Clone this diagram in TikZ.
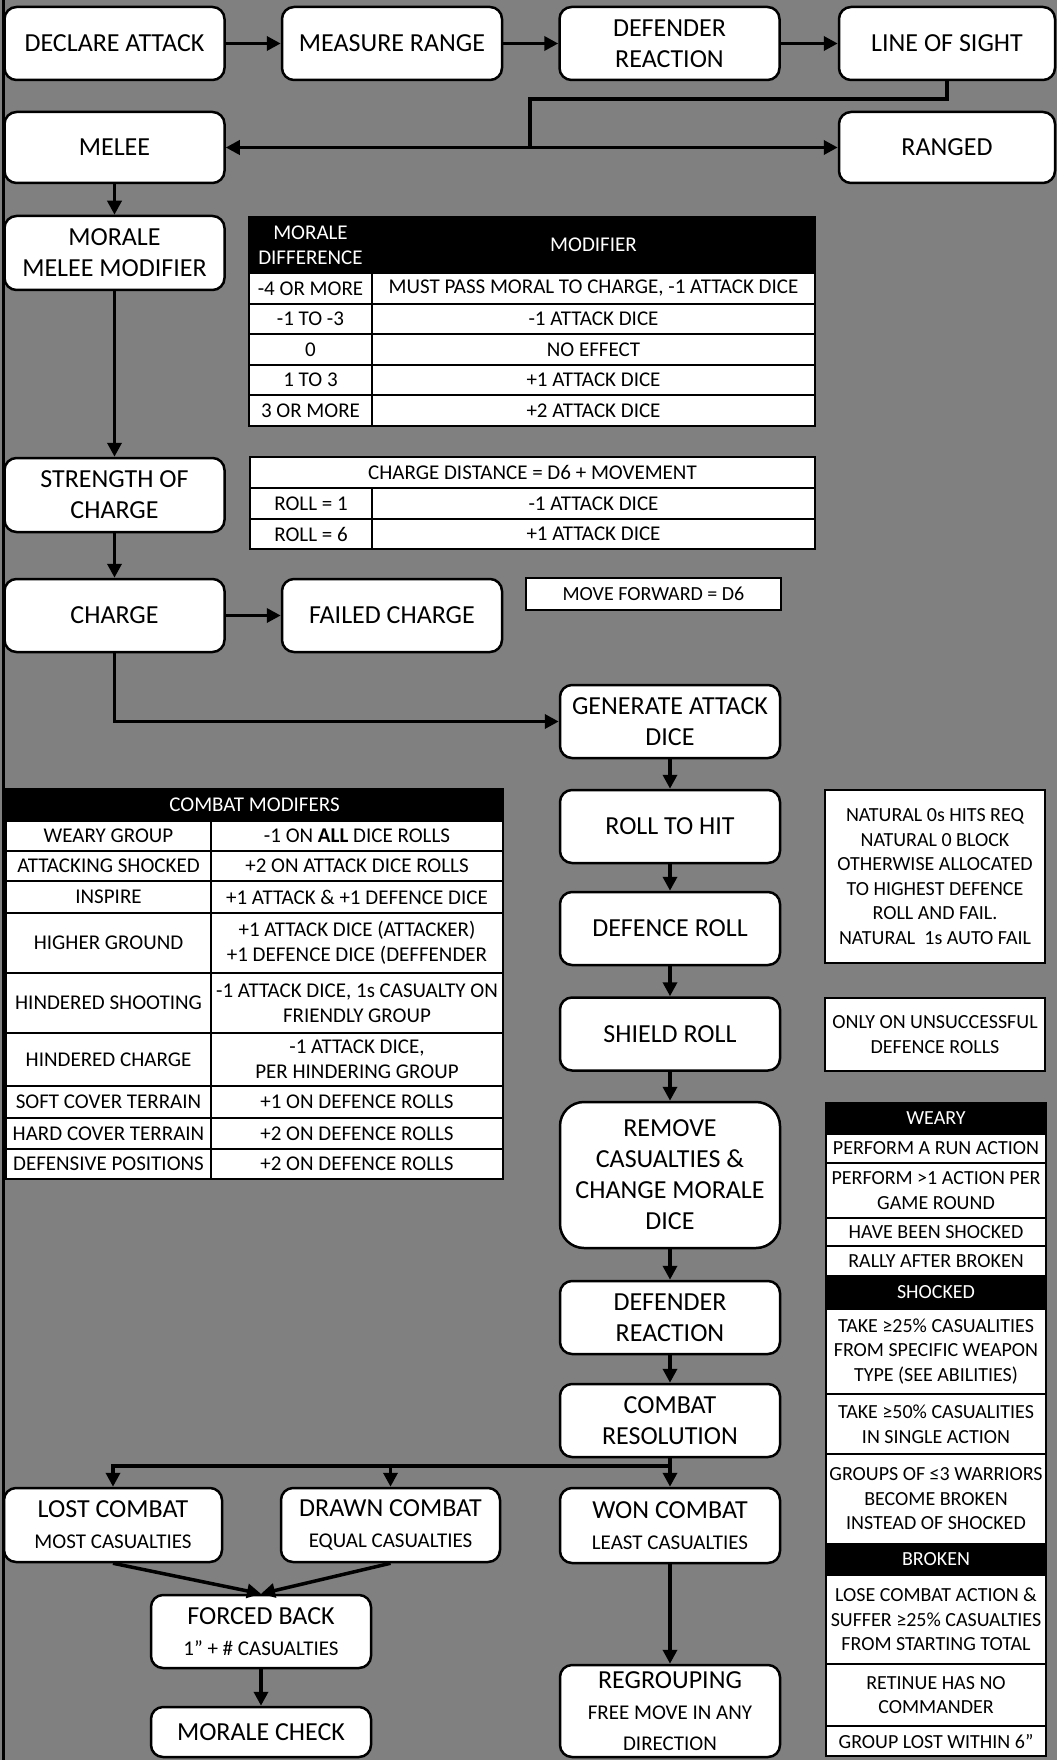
\documentclass[tikz,border=0pt]{standalone}
\usepackage{fontspec}
\setmainfont{Carlito}
\usetikzlibrary{arrows.meta}
\definecolor{bggray}{HTML}{808080}
\newcommand{\flowfont}{\fontsize{26}{31}\selectfont}
\newcommand{\minorfont}{\fontsize{21}{26}\selectfont}
\newcommand{\cellfont}{\fontsize{21}{25}\selectfont}
\newcommand{\memofont}{\fontsize{20}{24.5}\selectfont}

\begin{document}
\begin{tikzpicture}[x=1pt,y=-1pt,>={Triangle[length=14pt,width=14pt]},
  stepbox/.style={draw,line width=2.5pt,fill=white,rounded corners=12pt,minimum width=220pt,minimum height=73pt,inner sep=2pt,align=center,font=\flowfont},
  memo/.style={draw,line width=2.5pt,fill=white,inner sep=0pt,align=center,font=\memofont},
  tcell/.style={draw,line width=2pt,fill=white,anchor=north west,inner sep=0pt,align=center,font=\cellfont},
  thead/.style={tcell,fill=black,text=white},
  scell/.style={tcell,font=\memofont},
  shead/.style={thead,font=\memofont},
  wh/.style 2 args={minimum width=#1,minimum height=#2},
  link/.style={line width=3.5pt,line join=miter},
  flow/.style={link,->}]
\useasboundingbox (0,0) rectangle (1057,1760);
\fill[bggray] (0,0) rectangle (1057,1760);
\draw[line width=3pt] (3.5,0) -- (3.5,1760);

% main flow
\node[stepbox] (decl) at (114.5,43.5) {DECLARE ATTACK};
\node[stepbox] (meas) at (392,43.5) {MEASURE RANGE};
\node[stepbox] (react) at (669.5,43.5) {DEFENDER\\REACTION};
\node[stepbox,minimum width=216pt] (sight) at (947,43.5) {LINE OF SIGHT};
\node[stepbox,minimum height=71pt] (melee) at (114.5,147.5) {MELEE};
\node[stepbox,minimum width=216pt,minimum height=71pt] (ranged) at (947,147.5) {RANGED};
\node[stepbox,minimum height=74pt] (moralemod) at (114.5,253) {MORALE\\MELEE MODIFIER};
\node[stepbox,minimum height=74pt] (strength) at (114.5,495) {STRENGTH OF\\CHARGE};
\node[stepbox] (charge) at (114.5,615.5) {CHARGE};
\node[stepbox] (failed) at (392,615.5) {FAILED CHARGE};
\node[memo,minimum width=255pt,minimum height=32pt] (moved6) at (653.5,594) {MOVE FORWARD = D6};
\node[stepbox] (generate) at (670,721.5) {GENERATE ATTACK\\DICE};
\node[stepbox] (tohit) at (670,826.5) {ROLL TO HIT};
\node[stepbox] (defroll) at (670,928.5) {DEFENCE ROLL};
\node[stepbox] (shield) at (670,1034) {SHIELD ROLL};
\node[stepbox,minimum height=146pt,rounded corners=24pt] (remove) at (670,1175) {REMOVE\\CASUALTIES \&\\CHANGE MORALE\\DICE};
\node[stepbox] (react2) at (670,1317.5) {DEFENDER\\REACTION};
\node[stepbox] (resolve) at (670,1420.5) {COMBAT\\RESOLUTION};
\node[stepbox,minimum height=75pt] (won) at (670,1525.5) {WON COMBAT\\\minorfont LEAST CASUALTIES};
\node[stepbox,minimum height=92pt] (regroup) at (670,1711) {REGROUPING\\\minorfont FREE MOVE IN ANY\\\minorfont DIRECTION};
\node[stepbox,minimum width=218pt,minimum height=74pt] (lost) at (113,1525) {LOST COMBAT\\\minorfont MOST CASUALTIES};
\node[stepbox,minimum width=219pt,minimum height=74pt] (drawn) at (390.5,1525) {DRAWN COMBAT\\\minorfont EQUAL CASUALTIES};
\node[stepbox] (forced) at (261,1631.5) {FORCED BACK\\\minorfont 1” + \# CASUALTIES};
\node[stepbox,minimum height=50pt] (mcheck) at (261,1732) {MORALE CHECK};

% notes
\node[memo,minimum width=220pt,minimum height=173pt] (natural) at (935,876.5) {NATURAL 0s HITS REQ\\NATURAL 0 BLOCK\\OTHERWISE ALLOCATED\\TO HIGHEST DEFENCE\\ROLL AND FAIL.\\NATURAL\ \ 1s AUTO FAIL};
\node[memo,minimum width=220pt,minimum height=73pt] (shieldnote) at (935,1034.5) {ONLY ON UNSUCCESSFUL\\DEFENCE ROLLS};

% morale difference table
\node[thead,wh={123pt}{56pt}] (mdH1) at (248,216) {MORALE\\DIFFERENCE};
\node[thead,wh={443pt}{56pt}] (mdH2) at (371,216) {MODIFIER};
\node[tcell,wh={123pt}{30.6pt}] (md1a) at (248,272) {-4 OR MORE};
\node[tcell,wh={443pt}{30.6pt}] (md1b) at (371,272) {MUST PASS MORAL TO CHARGE, -1 ATTACK DICE};
\node[tcell,wh={123pt}{30.6pt}] (md2a) at (248,302.6) {-1 TO -3};
\node[tcell,wh={443pt}{30.6pt}] (md2b) at (371,302.6) {-1 ATTACK DICE};
\node[tcell,wh={123pt}{30.6pt}] (md3a) at (248,333.2) {0};
\node[tcell,wh={443pt}{30.6pt}] (md3b) at (371,333.2) {NO EFFECT};
\node[tcell,wh={123pt}{30.6pt}] (md4a) at (248,363.8) {1 TO 3};
\node[tcell,wh={443pt}{30.6pt}] (md4b) at (371,363.8) {+1 ATTACK DICE};
\node[tcell,wh={123pt}{30.6pt}] (md5a) at (248,394.4) {3 OR MORE};
\node[tcell,wh={443pt}{30.6pt}] (md5b) at (371,394.4) {+2 ATTACK DICE};

% charge distance table
\node[tcell,wh={565pt}{31pt}] (cd0) at (249,456) {CHARGE DISTANCE = D6 + MOVEMENT};
\node[tcell,wh={122pt}{31pt}] (cd1a) at (249,487) {ROLL = 1};
\node[tcell,wh={443pt}{31pt}] (cd1b) at (371,487) {-1 ATTACK DICE};
\node[tcell,wh={122pt}{30pt}] (cd2a) at (249,518) {ROLL = 6};
\node[tcell,wh={443pt}{30pt}] (cd2b) at (371,518) {+1 ATTACK DICE};

% combat modifiers table
\node[thead,wh={497pt}{32pt}] (cmH) at (5,788) {COMBAT MODIFERS};
\node[tcell,wh={205pt}{30pt}] (cm1a) at (5,820) {WEARY GROUP};
\node[tcell,wh={292pt}{30pt}] (cm1b) at (210,820) {-1 ON \textbf{ALL} DICE ROLLS};
\node[tcell,wh={205pt}{30pt}] (cm2a) at (5,850) {ATTACKING SHOCKED};
\node[tcell,wh={292pt}{30pt}] (cm2b) at (210,850) {+2 ON ATTACK DICE ROLLS};
\node[tcell,wh={205pt}{32pt}] (cm3a) at (5,880) {INSPIRE};
\node[tcell,wh={292pt}{32pt}] (cm3b) at (210,880) {+1 ATTACK \& +1 DEFENCE DICE};
\node[tcell,wh={205pt}{60pt}] (cm4a) at (5,912) {HIGHER GROUND};
\node[tcell,wh={292pt}{60pt}] (cm4b) at (210,912) {+1 ATTACK DICE (ATTACKER)\\+1 DEFENCE DICE (DEFFENDER};
\node[tcell,wh={205pt}{60pt}] (cm5a) at (5,972) {HINDERED SHOOTING};
\node[tcell,wh={292pt}{60pt}] (cm5b) at (210,972) {-1 ATTACK DICE, 1s CASUALTY ON\\FRIENDLY GROUP};
\node[tcell,wh={205pt}{53pt}] (cm6a) at (5,1032) {HINDERED CHARGE};
\node[tcell,wh={292pt}{53pt}] (cm6b) at (210,1032) {-1 ATTACK DICE,\\PER HINDERING GROUP};
\node[tcell,wh={205pt}{32pt}] (cm7a) at (5,1085) {SOFT COVER TERRAIN};
\node[tcell,wh={292pt}{32pt}] (cm7b) at (210,1085) {+1 ON DEFENCE ROLLS};
\node[tcell,wh={205pt}{31pt}] (cm8a) at (5,1117) {HARD COVER TERRAIN};
\node[tcell,wh={292pt}{31pt}] (cm8b) at (210,1117) {+2 ON DEFENCE ROLLS};
\node[tcell,wh={205pt}{30pt}] (cm9a) at (5,1148) {DEFENSIVE POSITIONS};
\node[tcell,wh={292pt}{30pt}] (cm9b) at (210,1148) {+2 ON DEFENCE ROLLS};

% status table
\node[shead,wh={220pt}{31pt}] (stW) at (825,1102) {WEARY};
\node[scell,wh={220pt}{29pt}] (stW1) at (825,1133) {PERFORM A RUN ACTION};
\node[scell,wh={220pt}{55pt}] (stW2) at (825,1162) {PERFORM >1 ACTION PER\\GAME ROUND};
\node[scell,wh={220pt}{28pt}] (stW3) at (825,1217) {HAVE BEEN SHOCKED};
\node[scell,wh={220pt}{30pt}] (stW4) at (825,1245) {RALLY AFTER BROKEN};
\node[shead,wh={220pt}{33pt}] (stS) at (825,1275) {SHOCKED};
\node[scell,wh={220pt}{85pt}] (stS1) at (825,1308) {TAKE ≥25\% CASUALITIES\\FROM SPECIFIC WEAPON\\TYPE (SEE ABILITIES)};
\node[scell,wh={220pt}{60pt}] (stS2) at (825,1393) {TAKE ≥50\% CASUALITIES\\IN SINGLE ACTION};
\node[scell,wh={220pt}{90pt}] (stS3) at (825,1453) {GROUPS OF ≤3 WARRIORS\\BECOME BROKEN\\INSTEAD OF SHOCKED};
\node[shead,wh={220pt}{31pt}] (stB) at (825,1543) {BROKEN};
\node[scell,wh={220pt}{89pt}] (stB1) at (825,1574) {LOSE COMBAT ACTION \&\\SUFFER ≥25\% CASUALTIES\\FROM STARTING TOTAL};
\node[scell,wh={220pt}{62pt}] (stB2) at (825,1663) {RETINUE HAS NO\\COMMANDER};
\node[scell,wh={220pt}{30pt}] (stB3) at (825,1725) {GROUP LOST WITHIN 6”};

% connectors
\coordinate (sightjoin) at (530,99);
\coordinate (sightsplit) at (530,147.5);
\coordinate (resbranch) at (668,1466);
\draw[flow] (decl) -- (meas);
\draw[flow] (meas) -- (react);
\draw[flow] (react) -- (sight);
\draw[link] (sight.south) |- (sightjoin) -- (sightsplit);
\draw[flow] (sightsplit) -- (melee);
\draw[flow] (sightsplit) -- (ranged);
\draw[flow] (melee) -- (moralemod);
\draw[flow] (moralemod) -- (strength);
\draw[flow] (strength) -- (charge);
\draw[flow] (charge) -- (failed);
\draw[flow] (charge) |- (generate);
\draw[flow] (generate) -- (tohit);
\draw[flow] (tohit) -- (defroll);
\draw[flow] (defroll) -- (shield);
\draw[flow] (shield) -- (remove);
\draw[flow] (remove) -- (react2);
\draw[flow] (react2) -- (resolve);
\draw[flow] (resolve) -- (won);
\draw[flow] (resbranch) -| (lost);
\draw[flow] (resbranch) -| (drawn);
\draw[flow] (lost.south) -- (forced.north);
\draw[flow] (drawn.south) -- (forced.north);
\draw[flow] (forced) -- (mcheck);
\draw[flow] (won) -- (regroup);
\end{tikzpicture}
\end{document}
